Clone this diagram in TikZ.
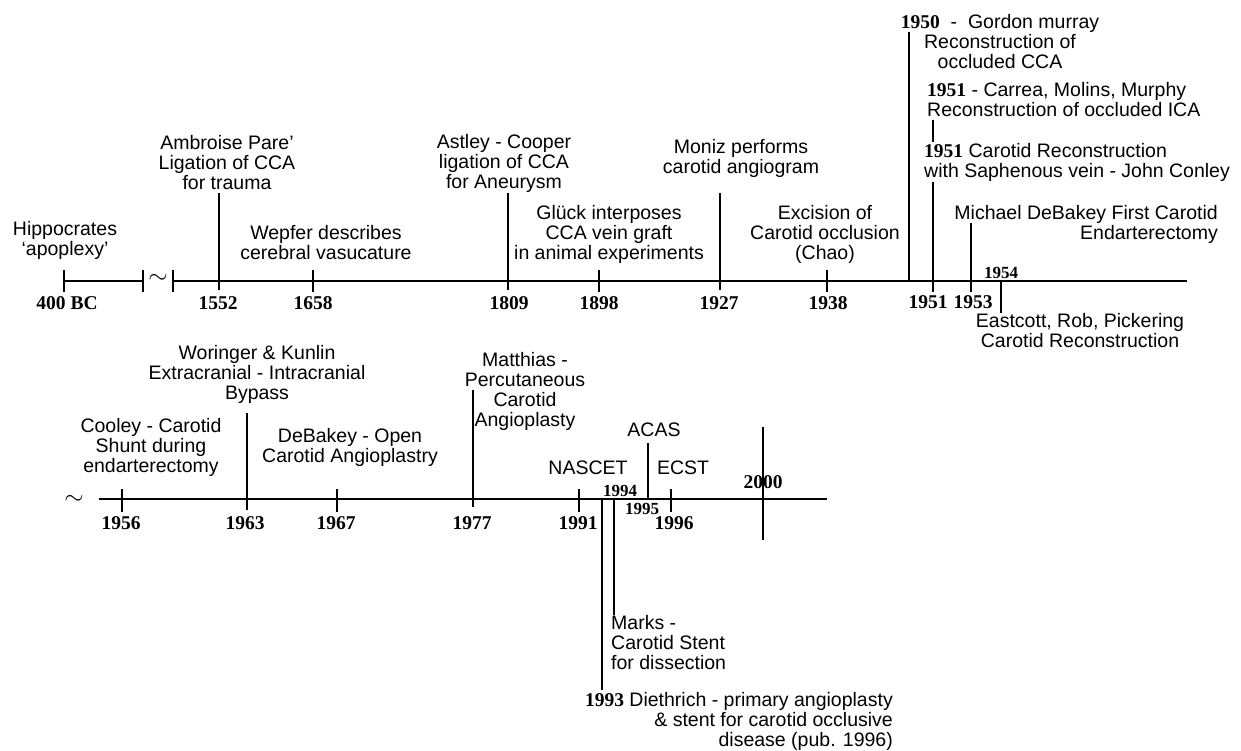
\documentclass[tikz,border=0pt]{standalone}
\usepackage{fontspec}
\setmainfont{Liberation Serif}
\setsansfont{Liberation Sans}

\newcommand{\yrtxt}[1]{{\rmfamily\bfseries #1}}

\begin{document}
\begin{tikzpicture}[x=1pt,y=-1pt,
    ev/.style={font=\sffamily\fontsize{19.5}{20}\selectfont, align=center, inner sep=0pt},
    yr/.style={font=\rmfamily\bfseries\fontsize{19.5}{20}\selectfont, inner sep=0pt},
    yrsmall/.style={font=\rmfamily\bfseries\fontsize{17}{18}\selectfont, inner sep=0pt},
    axisline/.style={line width=2pt},
    tickline/.style={line width=2pt},
    evline/.style={line width=1.3pt},
    evthick/.style={line width=2.6pt}]

    \useasboundingbox (0,0) rectangle (1241,750);

    % axes
    \coordinate (ta) at (64,281);
    \coordinate (tb) at (143,281);
    \coordinate (tc) at (173,281);
    \coordinate (td) at (1187,281);
    \coordinate (ba) at (99,499);
    \coordinate (bb) at (827,499);

    \draw[axisline] (ta) -- (tb);
    \draw[axisline] (tc) -- (td);
    \draw[axisline] (ba) -- (bb);

    \node[font=\fontsize{26}{26}\selectfont, inner sep=0pt] (tsim) at (158,279) {$\sim$};
    \node[font=\fontsize{26}{26}\selectfont, inner sep=0pt] (bsim) at (74,500) {$\sim$};

    \foreach \x in {64,143,173,313,599,827}
    \draw[tickline] (\x,270) -- (\x,292);
    \foreach \x in {122,337,579,671}
    \draw[tickline] (\x,489) -- (\x,512);

    % event lines
    \foreach \n/\x/\ya/\yb in {1552/219/193/290, 1809/508/193/290, 1927/720/193/290,
        1963/247/413/510, 1977/473/390/507, 1950/909/32/281, 1951a/933/120/142,
        1951b/933/182/292, 1953/971/223/292, 1954/1001/281/313, 1993/602/499/690,
        1994/614/499/615, 1995/648/443/499, 2000/763/427/540}
    {
        \coordinate (t\n) at (\x,\ya);
        \coordinate (b\n) at (\x,\yb);
    }

    \foreach \n in {1552,1809,1927,1963,1977}
    \draw[evline] (t\n) -- (b\n);
    \foreach \n in {1950,1951a,1951b,1953,1954,1993,1994,1995,2000}
    \draw[evthick] (t\n) -- (b\n);

    % years
    \node[yr] (y400) at (67,303) {400 BC};
    \node[yr] (y1552) at (218,303) {1552};
    \node[yr] (y1658) at (313,303) {1658};
    \node[yr] (y1809) at (509,303) {1809};
    \node[yr] (y1898) at (599,303) {1898};
    \node[yr] (y1927) at (719,303) {1927};
    \node[yr] (y1938) at (828,303) {1938};
    \node[yr] (y1951) at (928,302) {1951};
    \node[yr] (y1953) at (973,302) {1953};
    \node[yrsmall] (y1954) at (1001,273) {1954};

    \node[yr] (y1956) at (121,523) {1956};
    \node[yr] (y1963) at (245,523) {1963};
    \node[yr] (y1967) at (336,523) {1967};
    \node[yr] (y1977) at (472,523) {1977};
    \node[yr] (y1991) at (578,523) {1991};
    \node[yrsmall] (y1994) at (620,491) {1994};
    \node[yrsmall] (y1995) at (642,509) {1995};
    \node[yr] (y1996) at (674,523) {1996};
    \node[yr] (y2000) at (763,482) {2000};

    % events, top
    \node[ev] (hipp) at (65,240) {Hippocrates\\`apoplexy'};
    \node[ev] (pare) at (227,163) {Ambroise Pare'\\Ligation of CCA\\for trauma};
    \node[ev] (wepfer) at (326,243) {Wepfer describes\\cerebral vasucature};
    \node[ev] (astley) at (504,163) {Astley - Cooper\\ligation of CCA\\for Aneurysm};
    \node[ev] (gluck) at (609,234) {Glück interposes\\CCA vein graft\\in animal experiments};
    \node[ev] (moniz) at (741,158) {Moniz performs\\carotid angiogram};
    \node[ev] (chao) at (825,234) {Excision of\\Carotid occlusion\\(Chao)};
    \node[ev] (murray) at (1000,42) {\yrtxt{1950}\ \ -\ \ Gordon murray\\Reconstruction of\\occluded CCA};
    \node[ev, align=left, anchor=west] (carrea) at (927,100) {\yrtxt{1951} - Carrea, Molins, Murphy\\Reconstruction of occluded ICA};
    \node[ev, align=left, anchor=west] (conley) at (924,162) {\yrtxt{1951} Carotid Reconstruction\\with Saphenous vein - John Conley};
    \node[ev, align=right, anchor=east] (debakey) at (1218,224) {Michael DeBakey First Carotid\\Endarterectomy};
    \node[ev] (eastcott) at (1080,331) {Eastcott, Rob, Pickering\\Carotid Reconstruction};

    % events, bottom
    \node[ev] (woringer) at (257,374) {Woringer \& Kunlin\\Extracranial - Intracranial\\Bypass};
    \node[ev] (cooley) at (151,447) {Cooley - Carotid\\Shunt during\\endarterectomy};
    \node[ev] (openca) at (350,447) {DeBakey - Open\\Carotid Angioplastry};
    \node[ev] (matthias) at (525,391) {Matthias -\\Percutaneous\\Carotid\\Angioplasty};
    \node[ev] (nascet) at (588,468) {NASCET};
    \node[ev] (acas) at (654,430) {ACAS};
    \node[ev] (ecst) at (683,468) {ECST};
    \node[ev, align=left, anchor=west] (marks) at (611,643) {Marks -\\Carotid Stent\\for dissection};
    \node[ev, align=right, anchor=east] (diethrich) at (893,721) {\yrtxt{1993} Diethrich - primary angioplasty\\\& stent for carotid occlusive\\disease (pub. 1996)};

\end{tikzpicture}
\end{document}
